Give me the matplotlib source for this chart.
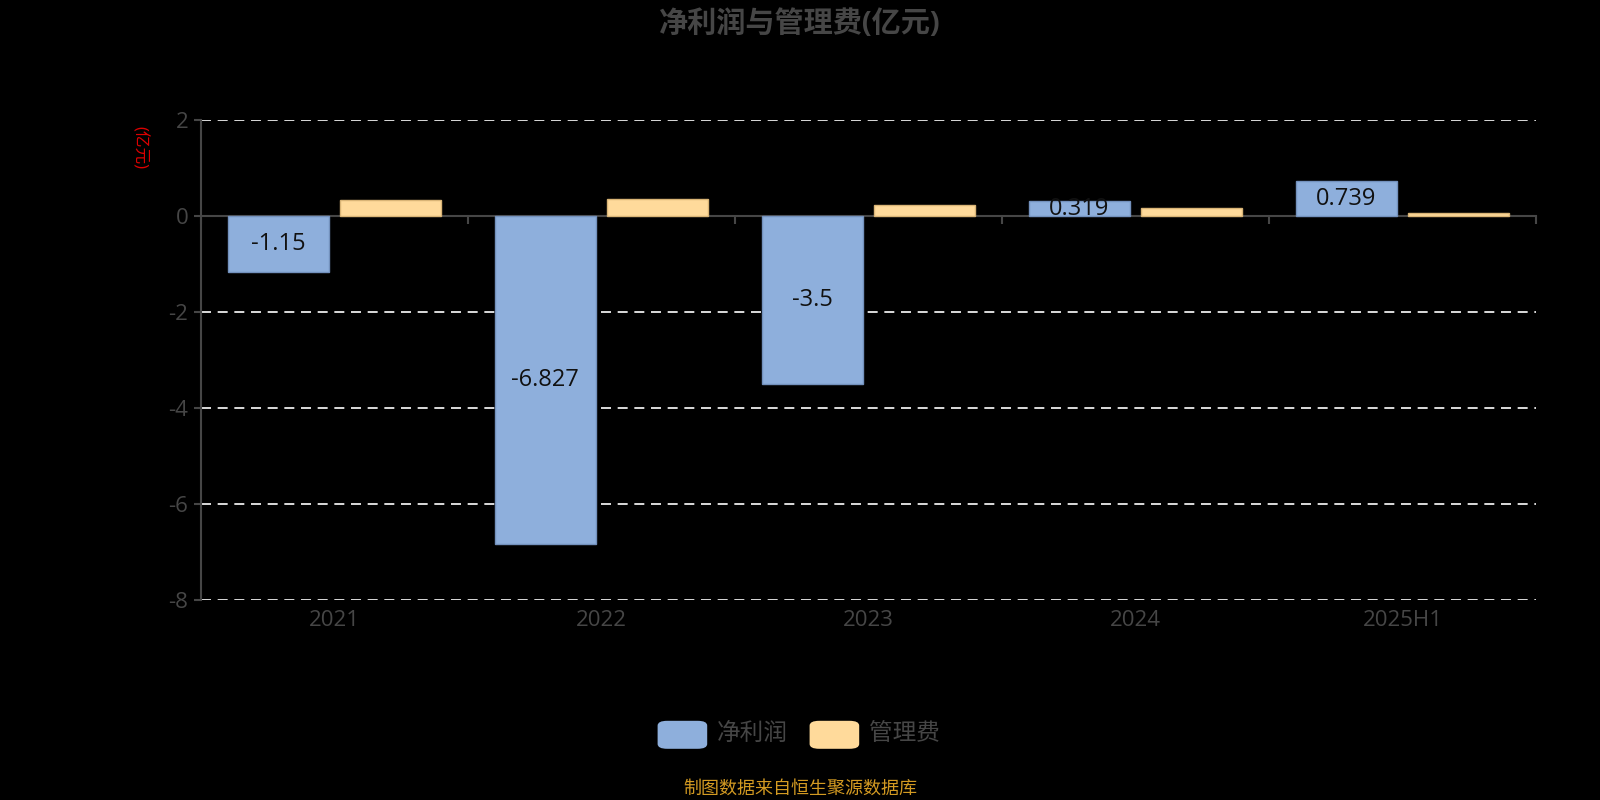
import numpy as np
from matplotlib import pyplot as plt
from matplotlib.patches import FancyBboxPatch

plt.rcParams['font.family'] = ['Open Sans', 'Noto Sans CJK SC', 'DejaVu Sans']
plt.rcParams['axes.unicode_minus'] = False

years = ['2021', '2022', '2023', '2024', '2025H1']
net_profit = [-1.15, -6.827, -3.5, 0.319, 0.739]
admin_fee = [0.35, 0.37, 0.24, 0.17, 0.08]
profit_labels = ['-1.15', '-6.827', '-3.5', '0.319', '0.739']

blue = '#8eafdc'
orange = '#ffda9b'
grey = '#464646'

fig = plt.figure(figsize=(16, 8), dpi=100, facecolor='black')
ax = fig.add_axes([0.1256, 0.25, 0.8344, 0.5994])
ax.set_facecolor('black')

x = np.arange(len(years))
w = 0.38
b1 = ax.bar(x - 0.21, net_profit, w, color=blue, edgecolor='#7391bd', linewidth=1, zorder=3)
b2 = ax.bar(x + 0.21, admin_fee, w, color=orange, edgecolor='#d9b476', linewidth=1, zorder=3)
for rect, lab in zip(b1, profit_labels):
    cy = rect.get_y() + rect.get_height() / 2
    ax.text(rect.get_x() + rect.get_width() / 2, cy, lab, ha='center', va='center',
            fontsize=17, color='#111111', zorder=4)

ax.set_xlim(-0.5, len(years) - 0.5)
ax.set_ylim(-8, 2)
ax.set_yticks([2, 0, -2, -4, -6, -8])
for yv in [2, -2, -4, -6, -8]:
    ax.axhline(yv, color='white', linestyle=(0, (6, 4)), linewidth=1.2, zorder=1)

# axes styling
for s in ['top', 'right']:
    ax.spines[s].set_visible(False)
ax.spines['left'].set_color(grey)
ax.spines['left'].set_linewidth(1.5)
ax.spines['bottom'].set_position(('data', 0))
ax.spines['bottom'].set_color(grey)
ax.spines['bottom'].set_linewidth(1.5)
ax.set_xticks(np.arange(len(years) + 1) - 0.5)
ax.set_xticklabels([])
ax.tick_params(axis='x', direction='out', length=6, width=1.5, color=grey)
ax.tick_params(axis='y', direction='out', length=5, width=1.5, color=grey,
               labelcolor=grey, labelsize=16, pad=4)

sec = ax.secondary_xaxis('bottom')
sec.set_xticks(x)
sec.set_xticklabels(years)
sec.spines['bottom'].set_visible(False)
sec.tick_params(length=0, labelcolor=grey, labelsize=16, pad=7)

# titles
fig.text(0.5, 0.97, '净利润与管理费(亿元)', ha='center', va='center', fontsize=21,
         fontweight='bold', color=grey)
fig.text(0.087, 0.816, '(亿元)', ha='center', va='center', rotation=-90,
         fontsize=12, color='#dd0000')

# legend
items = [('净利润', blue, 0.411), ('管理费', orange, 0.506)]
for name, col, lx in items:
    fig.add_artist(FancyBboxPatch((lx, 0.064), 0.031, 0.035,
                                  boxstyle='round,pad=0,rounding_size=0.006',
                                  transform=fig.transFigure, facecolor=col,
                                  edgecolor='none'))
    fig.text(lx + 0.037, 0.082, name, ha='left', va='center', fontsize=17, color=grey)

fig.text(0.5, 0.014, '制图数据来自恒生聚源数据库', ha='center', va='center',
         fontsize=13, color='#d39a22')

fig.savefig('out.png', dpi=100, facecolor='black')
